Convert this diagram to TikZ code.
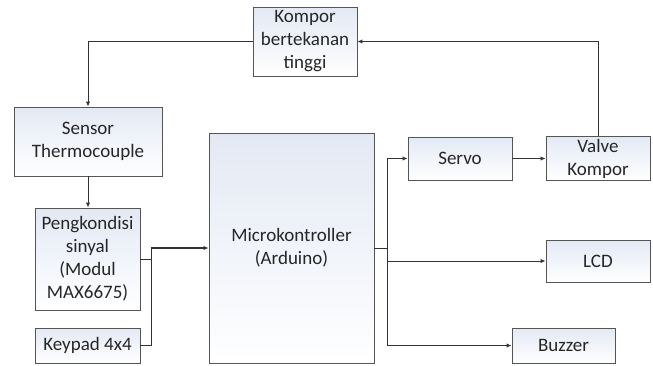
\documentclass[tikz,border=0pt]{standalone}
\usepackage{fontspec}
\setmainfont{Carlito}
\usetikzlibrary{arrows.meta}
\definecolor{boxtop}{HTML}{E3E9F4}
\definecolor{edge}{HTML}{555555}
\definecolor{wire}{HTML}{333333}
\tikzset{
  blk/.style={draw=edge, line width=0.9pt, top color=boxtop, bottom color=white,
    align=center, inner sep=0pt, font=\fontsize{19}{23}\selectfont, text=black!85},
  arr/.style={draw=wire, line width=1pt, -{Latex[length=5pt,width=4.5pt]}},
  wln/.style={draw=wire, line width=1pt},
}
\begin{document}
\begin{tikzpicture}[x=1pt,y=-1pt]
\useasboundingbox (0,0) rectangle (653,365);
\node[blk, minimum width=104pt, minimum height=69pt] (komp) at (305,41.5) {Kompor\\bertekanan\\tinggi};
\node[blk, minimum width=148pt, minimum height=69pt] (sens) at (88,141.5) {Sensor\\Thermocouple};
\node[blk, minimum width=165pt, minimum height=230pt] (micro) at (291.5,248) {Microkontroller\\(Arduino)};
\node[blk, minimum width=104pt, minimum height=43pt] (servo) at (460,158.5) {Servo};
\node[blk, minimum width=104pt, minimum height=44pt] (valve) at (598,158.5) {Valve\\Kompor};
\node[blk, minimum width=105pt, minimum height=102pt] (peng) at (87.5,259) {Pengkondisi\\sinyal\\(Modul\\MAX6675)};
\node[blk, minimum width=105pt, minimum height=35pt] (key) at (87.5,345.5) {Keypad 4x4};
\node[blk, minimum width=104pt, minimum height=42pt] (lcd) at (598,261) {LCD};
\node[blk, minimum width=103pt, minimum height=35pt] (buzz) at (563.5,345.5) {Buzzer};

\coordinate (jl) at (151,248);
\coordinate (jr) at (387,248);

\draw[arr] (komp.west) -| (sens.north);
\draw[arr] (valve.north) |- (komp.east);
\draw[arr] (sens.south) -- (sens.south |- peng.north);
\draw[arr] (servo.east) -- (valve.west);

\draw[wln] (peng.east) -- (peng.east -| jl);
\draw[wln] (key.east) -| (jl);
\draw[arr, line width=1.5pt] (jl) -- (micro.west);

\draw[wln] (micro.east) -- (jr);
\draw[wln] (jr |- servo.west) -- (jr |- buzz.west);
\draw[arr] (jr |- servo.west) -- (servo.west);
\draw[arr] (jr |- lcd.west) -- (lcd.west);
\draw[arr] (jr |- buzz.west) -- (buzz.west);
\end{tikzpicture}
\end{document}
